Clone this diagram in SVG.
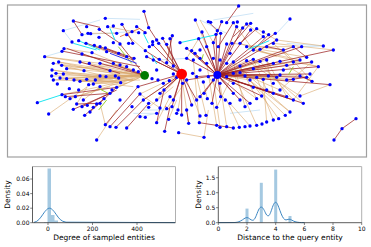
<svg xmlns="http://www.w3.org/2000/svg" width="371" height="247" viewBox="0 0 371 247">
<style>
text{font-family:"DejaVu Sans","Liberation Sans",sans-serif;fill:#000}
.tk{font-size:6px}
.lb{font-size:7.5px}
.r{stroke:#9b2020;stroke-opacity:.8;stroke-width:2.8;fill:none}
.t{stroke:#d9a66a;stroke-opacity:.6;stroke-width:3;fill:none}
.b{stroke:#cfe6f7;stroke-width:3;fill:none}
.c{stroke:#1ee6f0;stroke-width:3;fill:none}
.g{stroke:#9acd32;stroke-width:3;fill:none}
.o{stroke:#e8642a;stroke-width:3;fill:none;stroke-opacity:.8}
.bl{stroke:#3838e8;stroke-width:3;fill:none}
.dots circle{fill:#0000ff}
.tick{stroke:#333;stroke-width:.6}
.bar{fill:#a5c9e1}
.kde{stroke:#3b86c2;stroke-width:1;fill:none}
</style>
<rect x="7.5" y="5" width="359" height="152" fill="#fff" stroke="#a0a0a0" stroke-width="1.2"/>
<g transform="scale(0.33333)">
<g id="connectors">
<path class="b" d="M190 92L300 60M316 55L420 58M246 104L396 95M134 170L190 154M600 60L680 100M860 130L970 138M870 57L830 100M430 330L500 330M690 340L780 330M400 340L470 340M560 175L480 180M640 60L760 40M216 126L190 92M420 350L470 340M905 140L970 138"/>
<path class="t" d="M134 170L300 190M160 190L434 226M176 186L380 230M185 196L360 240M156 210L340 240M168 220L400 240M160 240L350 245M155 228L434 226M180 234L380 250M200 236L434 226M222 240L400 260M240 244L420 240M260 238L434 226M286 240L380 250M200 206L434 226M240 186L420 230M268 190L434 226M300 228L434 226M318 230L400 210M186 284L300 260M210 296L330 260M226 290L360 248M146 342L262 260M290 420L350 330M316 374L300 310M470 300L545 222M430 300L545 222M420 282L545 222M446 322L520 260M500 326L560 240M470 368L510 290M506 358L530 300M536 398L612 412M612 412L625 330M560 240L600 348M652 225L740 182M652 225L800 180M652 225L840 184M652 225L880 186M652 225L900 228M652 225L860 240M652 225L805 228M652 225L770 232M720 130L830 170M700 130L850 150M760 150L900 180M780 148L920 172M820 130L880 186M850 150L936 244M700 186L870 336M735 228L856 346M750 240L836 356M770 232L820 360M790 238L800 366M700 220L770 376M690 310L750 378M680 300L718 382M660 250L680 380M640 240L660 382M620 190L650 376M580 180L598 368M590 230L618 346M900 288L990 254M880 300L955 200M840 270L935 186M323 80L416 98M264 100L350 100M600 60L640 128M586 60L620 140M740 140L880 140M700 68L760 150M380 104L436 152M340 190L434 226M400 210L434 226M362 248L434 226M480 324L420 282M534 330L548 250M650 322L700 220M735 320L700 186M770 296L720 198M800 270L760 178M820 280L800 180M230 312L262 260M250 300L300 260M176 186L434 226M185 196L434 226M156 210L400 240M168 220L434 226M180 234L434 226M222 240L434 226M240 244L434 226M286 240L434 226M266 254L434 226M280 252L400 240M300 260L434 226M336 270L434 226M350 262L434 226M160 240L300 228M134 170L240 186M200 206L360 195M246 162L400 210M276 158L380 200M300 190L400 210M652 225L780 184M652 225L860 196M652 225L830 232M652 225L880 238M652 225L750 240M652 225L735 228M720 218L870 336M740 182L900 288M760 178L910 310M780 184L880 300M800 180L860 290M840 184L936 244M880 186L955 200M476 130L545 222M500 133L520 198M596 116L560 175M283 136L356 160M258 130L320 155M192 146L276 158M548 250L566 370M610 246L622 296M625 230L676 300M680 230L770 296M720 218L840 270M760 150L955 200M820 130L1000 150M830 120L970 138M740 72L790 110M770 86L830 120"/>
<path class="r" d="M716 18L680 68M432 34L446 83M220 63L300 82M220 63L246 104M190 154L420 200M200 145L434 226M260 130L400 180M298 88L360 130M366 73L400 130M446 83L470 120M410 80L440 100M470 120L545 222M488 115L545 222M510 116L520 198M517 107L500 188M458 134L545 222M436 152L545 222M300 140L380 170M316 144L402 175M360 132L434 226M652 225L606 96M652 225L596 116M652 225L648 103M652 225L662 100M652 225L710 80M652 225L728 84M652 225L752 90M652 225L790 110M652 225L826 100M652 225L830 120M652 225L880 140M652 225L905 140M652 225L1000 150M652 225L935 186M652 225L900 180M652 225L955 200M652 225L560 145M652 225L575 152M652 225L585 160M652 225L620 140M652 225L640 128M652 225L560 175M740 72L700 110M770 86L720 130M806 104L760 150M652 225L600 290M652 225L636 310M652 225L662 290M652 225L700 280M652 225L720 300M652 225L750 310M652 225L785 288M652 225L820 280M652 225L860 290M652 225L880 300M652 225L910 310M652 225L930 222M652 225L990 254M652 225L612 280M652 225L590 230M652 225L560 240M545 222L414 260M545 222L480 280M545 222L516 320M545 222L545 345M545 222L520 300M545 222L492 270M545 222L575 315M545 222L440 170M545 222L460 180M545 222L500 133M186 284L350 262M196 290L330 280M220 328L330 280M246 320L350 270M254 346L312 296M270 336L350 262M230 312L300 310M316 374L414 260M330 380L420 282M348 382L430 300M380 384L446 310M300 190L434 226M240 186L360 220M598 368L700 384M1026 386L1068 356M1002 420L1026 386M494 394L510 320M566 370L560 330M470 368L492 270M652 225L820 190M652 225L840 225M652 225L920 232M652 225L760 178M652 225L680 132M652 225L696 130M655 140L700 68M625 65L652 92M665 65L640 128M752 70L700 130M800 140L850 150M880 140L920 172M900 228L936 244M860 240L920 232M545 222L590 300M545 222L430 300"/>
<path class="c" d="M112 308L186 284M540 128L645 105M745 148L808 122M236 122L300 150M330 85L345 120M430 100L445 130M455 165L470 192M220 130L290 150"/>
<path class="g" d="M355 140L395 190M295 265L325 280M880 200L865 225M610 163L605 180M296 330L320 300"/>
<path class="o" d="M360 110L420 85M495 318L510 330"/>
<path class="bl" d="M330 160L410 190"/>
</g>
<g id="nodes" class="dots">
<circle cx="716" cy="18" r="5"/><circle cx="432" cy="34" r="5"/><circle cx="316" cy="55" r="5"/><circle cx="220" cy="63" r="5"/><circle cx="586" cy="60" r="5"/><circle cx="625" cy="65" r="5"/><circle cx="632" cy="67" r="5"/><circle cx="665" cy="65" r="5"/><circle cx="680" cy="68" r="5"/><circle cx="700" cy="68" r="5"/><circle cx="712" cy="66" r="5"/><circle cx="740" cy="72" r="5"/><circle cx="752" cy="70" r="5"/><circle cx="870" cy="57" r="5"/>
<circle cx="190" cy="92" r="5"/><circle cx="260" cy="80" r="5"/><circle cx="298" cy="88" r="5"/><circle cx="323" cy="80" r="5"/><circle cx="340" cy="78" r="5"/><circle cx="366" cy="73" r="5"/><circle cx="410" cy="80" r="5"/><circle cx="446" cy="83" r="5"/><circle cx="396" cy="95" r="5"/><circle cx="416" cy="98" r="5"/>
<circle cx="246" cy="104" r="5"/><circle cx="264" cy="100" r="5"/><circle cx="272" cy="101" r="5"/><circle cx="297" cy="112" r="5"/><circle cx="350" cy="100" r="5"/><circle cx="380" cy="104" r="5"/><circle cx="435" cy="98" r="5"/>
<circle cx="517" cy="107" r="5"/><circle cx="510" cy="116" r="5"/><circle cx="488" cy="115" r="5"/><circle cx="470" cy="120" r="5"/><circle cx="458" cy="125" r="5"/>
<circle cx="540" cy="128" r="5"/><circle cx="596" cy="116" r="5"/><circle cx="606" cy="96" r="5"/><circle cx="648" cy="103" r="5"/><circle cx="652" cy="92" r="5"/><circle cx="662" cy="100" r="5"/>
<circle cx="710" cy="80" r="5"/><circle cx="728" cy="84" r="5"/><circle cx="752" cy="90" r="5"/><circle cx="770" cy="86" r="5"/><circle cx="790" cy="96" r="5"/><circle cx="806" cy="104" r="5"/><circle cx="826" cy="100" r="5"/><circle cx="790" cy="110" r="5"/>
<circle cx="216" cy="126" r="5"/><circle cx="236" cy="122" r="5"/><circle cx="258" cy="130" r="5"/><circle cx="283" cy="136" r="5"/><circle cx="300" cy="140" r="5"/><circle cx="316" cy="144" r="5"/><circle cx="340" cy="128" r="5"/><circle cx="360" cy="132" r="5"/><circle cx="386" cy="130" r="5"/><circle cx="398" cy="130" r="5"/>
<circle cx="186" cy="154" r="5"/><circle cx="192" cy="146" r="5"/><circle cx="246" cy="162" r="5"/><circle cx="276" cy="158" r="5"/><circle cx="320" cy="155" r="5"/><circle cx="356" cy="160" r="5"/><circle cx="380" cy="170" r="5"/><circle cx="402" cy="175" r="5"/><circle cx="436" cy="152" r="5"/><circle cx="448" cy="140" r="5"/><circle cx="458" cy="134" r="5"/><circle cx="476" cy="130" r="5"/><circle cx="500" cy="133" r="5"/>
<circle cx="560" cy="145" r="5"/><circle cx="575" cy="152" r="5"/><circle cx="585" cy="160" r="5"/><circle cx="600" cy="150" r="5"/><circle cx="620" cy="140" r="5"/><circle cx="640" cy="128" r="5"/><circle cx="655" cy="140" r="5"/><circle cx="680" cy="132" r="5"/><circle cx="696" cy="130" r="5"/><circle cx="720" cy="130" r="5"/><circle cx="740" cy="140" r="5"/><circle cx="760" cy="150" r="5"/><circle cx="780" cy="148" r="5"/><circle cx="800" cy="140" r="5"/><circle cx="820" cy="130" r="5"/><circle cx="830" cy="120" r="5"/><circle cx="850" cy="150" r="5"/><circle cx="880" cy="140" r="5"/><circle cx="905" cy="140" r="5"/><circle cx="970" cy="138" r="5"/><circle cx="1000" cy="150" r="5"/>
<circle cx="134" cy="170" r="5"/><circle cx="160" cy="190" r="5"/><circle cx="176" cy="186" r="5"/><circle cx="185" cy="196" r="5"/><circle cx="200" cy="206" r="5"/><circle cx="240" cy="186" r="5"/><circle cx="268" cy="190" r="5"/><circle cx="300" cy="190" r="5"/><circle cx="340" cy="190" r="5"/><circle cx="360" cy="195" r="5"/><circle cx="380" cy="200" r="5"/>
<circle cx="440" cy="170" r="5"/><circle cx="460" cy="180" r="5"/><circle cx="478" cy="178" r="5"/><circle cx="500" cy="188" r="5"/><circle cx="520" cy="198" r="5"/>
<circle cx="560" cy="175" r="5"/><circle cx="580" cy="180" r="5"/><circle cx="600" cy="175" r="5"/><circle cx="620" cy="190" r="5"/><circle cx="640" cy="175" r="5"/><circle cx="660" cy="180" r="5"/><circle cx="680" cy="190" r="5"/><circle cx="700" cy="186" r="5"/><circle cx="720" cy="198" r="5"/><circle cx="740" cy="182" r="5"/><circle cx="760" cy="178" r="5"/><circle cx="780" cy="184" r="5"/><circle cx="800" cy="180" r="5"/><circle cx="820" cy="190" r="5"/><circle cx="840" cy="184" r="5"/><circle cx="860" cy="196" r="5"/><circle cx="880" cy="186" r="5"/><circle cx="900" cy="180" r="5"/><circle cx="920" cy="172" r="5"/><circle cx="935" cy="186" r="5"/><circle cx="955" cy="200" r="5"/>
<circle cx="156" cy="210" r="5"/><circle cx="168" cy="220" r="5"/><circle cx="160" cy="240" r="5"/><circle cx="155" cy="228" r="5"/><circle cx="180" cy="234" r="5"/><circle cx="200" cy="236" r="5"/><circle cx="222" cy="240" r="5"/><circle cx="240" cy="244" r="5"/><circle cx="260" cy="238" r="5"/><circle cx="286" cy="240" r="5"/><circle cx="300" cy="228" r="5"/><circle cx="318" cy="230" r="5"/><circle cx="346" cy="228" r="5"/><circle cx="356" cy="234" r="5"/><circle cx="362" cy="248" r="5"/><circle cx="350" cy="262" r="5"/><circle cx="336" cy="270" r="5"/><circle cx="300" cy="260" r="5"/><circle cx="280" cy="252" r="5"/><circle cx="266" cy="254" r="5"/>
<circle cx="400" cy="210" r="5"/><circle cx="415" cy="215" r="5"/><circle cx="456" cy="236" r="5"/><circle cx="474" cy="240" r="5"/><circle cx="490" cy="250" r="5"/><circle cx="508" cy="242" r="5"/>
<circle cx="520" cy="222" r="5"/><circle cx="530" cy="232" r="5"/><circle cx="548" cy="250" r="5"/><circle cx="560" cy="240" r="5"/><circle cx="578" cy="220" r="5"/><circle cx="590" cy="230" r="5"/><circle cx="610" cy="246" r="5"/><circle cx="625" cy="230" r="5"/><circle cx="640" cy="240" r="5"/><circle cx="660" cy="250" r="5"/><circle cx="680" cy="230" r="5"/><circle cx="700" cy="220" r="5"/><circle cx="720" cy="218" r="5"/><circle cx="735" cy="228" r="5"/><circle cx="750" cy="240" r="5"/><circle cx="770" cy="232" r="5"/><circle cx="790" cy="238" r="5"/><circle cx="805" cy="228" r="5"/><circle cx="830" cy="232" r="5"/><circle cx="840" cy="225" r="5"/><circle cx="860" cy="240" r="5"/><circle cx="880" cy="238" r="5"/><circle cx="900" cy="228" r="5"/><circle cx="920" cy="232" r="5"/><circle cx="930" cy="222" r="5"/><circle cx="936" cy="244" r="5"/>
<circle cx="990" cy="254" r="5"/><circle cx="112" cy="308" r="5"/><circle cx="146" cy="342" r="5"/>
<circle cx="186" cy="284" r="5"/><circle cx="196" cy="290" r="5"/><circle cx="210" cy="296" r="5"/><circle cx="226" cy="290" r="5"/><circle cx="250" cy="300" r="5"/><circle cx="230" cy="312" r="5"/><circle cx="220" cy="328" r="5"/><circle cx="246" cy="320" r="5"/><circle cx="262" cy="316" r="5"/><circle cx="280" cy="322" r="5"/><circle cx="270" cy="336" r="5"/><circle cx="254" cy="346" r="5"/><circle cx="290" cy="312" r="5"/><circle cx="300" cy="310" r="5"/><circle cx="312" cy="296" r="5"/><circle cx="330" cy="280" r="5"/>
<circle cx="316" cy="374" r="5"/><circle cx="330" cy="380" r="5"/><circle cx="348" cy="382" r="5"/><circle cx="380" cy="384" r="5"/><circle cx="420" cy="350" r="5"/><circle cx="436" cy="352" r="5"/><circle cx="470" cy="368" r="5"/><circle cx="494" cy="394" r="5"/><circle cx="536" cy="398" r="5"/><circle cx="612" cy="412" r="5"/><circle cx="290" cy="420" r="5"/>
<circle cx="414" cy="260" r="5"/><circle cx="420" cy="282" r="5"/><circle cx="430" cy="300" r="5"/><circle cx="446" cy="310" r="5"/><circle cx="470" cy="300" r="5"/><circle cx="480" cy="280" r="5"/><circle cx="492" cy="270" r="5"/><circle cx="510" cy="290" r="5"/><circle cx="520" cy="300" r="5"/><circle cx="516" cy="320" r="5"/><circle cx="530" cy="340" r="5"/><circle cx="545" cy="345" r="5"/><circle cx="560" cy="330" r="5"/><circle cx="575" cy="315" r="5"/><circle cx="590" cy="300" r="5"/><circle cx="600" cy="290" r="5"/><circle cx="612" cy="280" r="5"/><circle cx="622" cy="296" r="5"/><circle cx="636" cy="310" r="5"/><circle cx="650" cy="322" r="5"/><circle cx="662" cy="290" r="5"/><circle cx="676" cy="300" r="5"/><circle cx="690" cy="310" r="5"/><circle cx="700" cy="280" r="5"/><circle cx="720" cy="300" r="5"/><circle cx="735" cy="320" r="5"/><circle cx="750" cy="310" r="5"/><circle cx="770" cy="296" r="5"/><circle cx="785" cy="288" r="5"/><circle cx="800" cy="270" r="5"/><circle cx="820" cy="280" r="5"/><circle cx="840" cy="270" r="5"/><circle cx="860" cy="290" r="5"/><circle cx="880" cy="300" r="5"/><circle cx="900" cy="288" r="5"/><circle cx="910" cy="310" r="5"/>
<circle cx="600" cy="348" r="5"/><circle cx="618" cy="346" r="5"/><circle cx="566" cy="370" r="5"/><circle cx="598" cy="368" r="5"/><circle cx="650" cy="376" r="5"/><circle cx="660" cy="382" r="5"/><circle cx="680" cy="380" r="5"/><circle cx="700" cy="384" r="5"/><circle cx="718" cy="382" r="5"/><circle cx="735" cy="380" r="5"/><circle cx="750" cy="378" r="5"/><circle cx="770" cy="376" r="5"/><circle cx="786" cy="372" r="5"/><circle cx="800" cy="366" r="5"/><circle cx="820" cy="360" r="5"/><circle cx="836" cy="356" r="5"/><circle cx="856" cy="346" r="5"/><circle cx="870" cy="336" r="5"/><circle cx="1026" cy="386" r="5"/><circle cx="1068" cy="356" r="5"/><circle cx="1002" cy="420" r="5"/>
<circle cx="480" cy="324" r="5"/><circle cx="500" cy="326" r="5"/><circle cx="534" cy="330" r="5"/><circle cx="470" cy="340" r="5"/><circle cx="446" cy="322" r="5"/><circle cx="506" cy="358" r="5"/>
<circle cx="172" cy="252" r="5"/><circle cx="208" cy="266" r="5"/><circle cx="236" cy="270" r="5"/><circle cx="190" cy="222" r="5"/><circle cx="252" cy="212" r="5"/><circle cx="330" cy="212" r="5"/><circle cx="470" cy="210" r="5"/><circle cx="600" cy="210" r="5"/><circle cx="690" cy="160" r="5"/><circle cx="760" cy="206" r="5"/><circle cx="850" cy="210" r="5"/><circle cx="760" cy="262" r="5"/><circle cx="820" cy="250" r="5"/><circle cx="700" cy="250" r="5"/><circle cx="396" cy="320" r="5"/><circle cx="360" cy="300" r="5"/>
</g>
<g id="hub-blue"><circle cx="652" cy="225" r="12" fill="#0000ff"/></g>
<g id="node-green"><circle cx="434" cy="226" r="13" fill="#007a00"/></g>
<g id="node-red"><circle cx="545" cy="222" r="16" fill="#ff0000"/></g>
</g>

<g id="plot-degree">
<path class="bar" d="M44 222.7V222.2H47.5V168.5H51V215H54.5V220.5H58V222.7Z"/>
<path class="kde" d="M34 222.4C38 221.5 40 218.5 43 214.2C45.5 210.5 47.5 208.2 49.5 208.2C51.5 208.2 53.5 210.5 56 214.2C59 218.5 61 221.5 66 222.2L175 222.6"/>
<path d="M32.5 166.6H175.5V222.7" fill="none" stroke="#b0b0b0" stroke-width="1"/>
<path d="M32.5 166.6V222.7H175.5" fill="none" stroke="#333" stroke-width=".8"/>
<path class="tick" d="M30.2 179H32.5M30.2 193.6H32.5M30.2 208.2H32.5M30.2 222.7H32.5M48 222.7V225M92.5 222.7V225M137 222.7V225"/>
<text class="tk" x="29.5" y="181.1" text-anchor="end">0.06</text>
<text class="tk" x="29.5" y="195.7" text-anchor="end">0.04</text>
<text class="tk" x="29.5" y="210.3" text-anchor="end">0.02</text>
<text class="tk" x="29.5" y="224.8" text-anchor="end">0.00</text>
<text class="tk" x="48" y="231" text-anchor="middle">0</text>
<text class="tk" x="92.5" y="231" text-anchor="middle">200</text>
<text class="tk" x="137" y="231" text-anchor="middle">400</text>
<text class="lb" x="104" y="240" text-anchor="middle">Degree of sampled entities</text>
<text class="lb" transform="translate(10 194.6) rotate(-90)" text-anchor="middle">Density</text>
</g>

<g id="plot-distance">
<rect class="bar" x="245.5" y="208.6" width="3" height="14.1"/>
<rect class="bar" x="259.8" y="182.8" width="3" height="39.9"/>
<rect class="bar" x="274.2" y="169.6" width="3" height="53.1"/>
<rect class="bar" x="288.5" y="216" width="3" height="6.7"/>
<path class="kde" d="M218.3 222.6L235 222.5C238 222.3 240 221.5 242.5 219.8C244.5 218.3 245.8 217.6 247 217.6C249 217.6 250.5 220.3 252.7 220.3C255 220.3 256.5 214.5 258.5 210C259.8 207.5 260.5 207.1 261.3 207.1C263 207.1 264.5 211 266 214C267 215.8 268 216.1 269 215.5C270.5 214 272 208 273.5 204.5C274.5 202.7 275 202.3 275.7 202.3C277 202.3 278.3 206 280 210.7C281.5 214.8 283 218.5 284.8 219.6C286.5 220.4 287.5 219.2 289 219.2C291 219.2 292.5 220.8 295 221.7C298 222.5 300 222.6 304.4 222.6"/>
<path d="M218.3 166.6H361.7V222.7" fill="none" stroke="#b0b0b0" stroke-width="1"/>
<path d="M218.3 166.6V222.7H361.7" fill="none" stroke="#333" stroke-width=".8"/>
<path class="tick" d="M216 177.7H218.3M216 192.7H218.3M216 207.7H218.3M216 222.7H218.3M218.3 222.7V225M247 222.7V225M275.7 222.7V225M304.4 222.7V225M333 222.7V225M361.7 222.7V225"/>
<text class="tk" x="215.3" y="179.8" text-anchor="end">1.5</text>
<text class="tk" x="215.3" y="194.8" text-anchor="end">1.0</text>
<text class="tk" x="215.3" y="209.8" text-anchor="end">0.5</text>
<text class="tk" x="215.3" y="224.8" text-anchor="end">0.0</text>
<text class="tk" x="218.3" y="231" text-anchor="middle">0</text>
<text class="tk" x="247" y="231" text-anchor="middle">2</text>
<text class="tk" x="275.7" y="231" text-anchor="middle">4</text>
<text class="tk" x="304.4" y="231" text-anchor="middle">6</text>
<text class="tk" x="333" y="231" text-anchor="middle">8</text>
<text class="tk" x="361.7" y="231" text-anchor="middle">10</text>
<text class="lb" x="290" y="240" text-anchor="middle">Distance to the query entity</text>
<text class="lb" transform="translate(201 194.6) rotate(-90)" text-anchor="middle">Density</text>
</g>
</svg>
